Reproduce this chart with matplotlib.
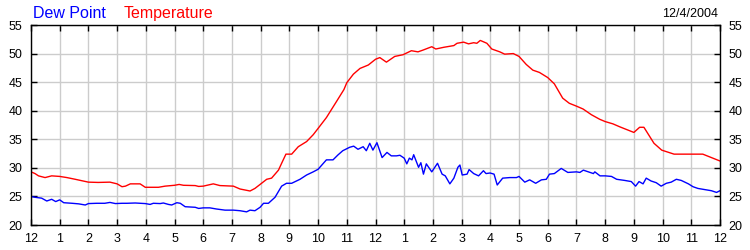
import matplotlib
matplotlib.use("Agg")
import matplotlib.pyplot as plt

plt.rcParams['font.family'] = ['Liberation Sans', 'DejaVu Sans']

# hours since midnight and temperature (F)
temp_hours = [0, 0.14, 0.26, 0.49, 0.72, 1.0, 1.25, 1.54, 1.77, 2.0, 2.34, 2.75, 3.0, 3.17, 3.29,
              3.46, 3.8, 3.98, 4.44, 4.67, 5.0, 5.16, 5.31, 5.72, 5.84, 6.0, 6.35, 6.58, 7.05, 7.28,
              7.63, 7.8, 7.98, 8.21, 8.38, 8.62, 8.73, 8.88, 9.08, 9.31, 9.6, 9.83, 10.0, 10.29,
              10.64, 10.9, 11.0, 11.23, 11.46, 11.75, 12.0, 12.15, 12.38, 12.67, 12.96, 13.25, 13.48,
              13.65, 13.96, 14.1, 14.38, 14.73, 14.84, 15.07, 15.24, 15.42, 15.53, 15.65, 15.88,
              16.05, 16.33, 16.5, 16.8, 17.0, 17.25, 17.48, 17.71, 18.0, 18.23, 18.52, 18.75, 19.0,
              19.23, 19.52, 19.81, 20.0, 20.27, 20.5, 21.0, 21.2, 21.35, 21.7, 21.97, 22.4, 23.4,
              23.7, 24.0]
temperature = [29.3, 29.0, 28.6, 28.3, 28.6, 28.5, 28.3, 28.0, 27.75, 27.5, 27.45, 27.5, 27.2, 26.7,
               26.8, 27.2, 27.2, 26.6, 26.6, 26.8, 26.95, 27.1, 26.95, 26.9, 26.75, 26.8, 27.2, 26.9,
               26.8, 26.3, 25.95, 26.4, 27.1, 28.0, 28.2, 29.6, 30.8, 32.4, 32.4, 33.7, 34.6, 35.8,
               36.9, 38.8, 41.6, 43.7, 44.9, 46.4, 47.4, 48.0, 49.0, 49.3, 48.5, 49.5, 49.8, 50.5,
               50.3, 50.6, 51.2, 50.8, 51.1, 51.4, 51.8, 52.0, 51.7, 51.9, 51.8, 52.3, 51.8, 50.8,
               50.3, 49.9, 50.0, 49.5, 48.1, 47.1, 46.7, 45.8, 44.7, 42.2, 41.3, 40.8, 40.3, 39.3,
               38.5, 38.1, 37.7, 37.2, 36.2, 37.1, 37.1, 34.3, 33.1, 32.4, 32.4, 31.8, 31.2]

dew_hours = [0, 0.14, 0.37, 0.55, 0.72, 0.86, 1.0, 1.14, 1.43, 1.66, 1.89, 2.0, 2.29, 2.57, 2.75,
             2.94, 3.17, 3.34, 3.63, 3.98, 4.15, 4.26, 4.5, 4.61, 4.79, 4.9, 5.08, 5.2, 5.37, 5.72,
             5.84, 6.0, 6.23, 6.46, 6.76, 7.05, 7.28, 7.51, 7.63, 7.8, 7.98, 8.1, 8.27, 8.5, 8.73,
             8.9, 9.08, 9.37, 9.6, 9.83, 10.0, 10.29, 10.52, 10.69, 10.86, 11.1, 11.24, 11.39, 11.57,
             11.68, 11.8, 11.91, 12.05, 12.23, 12.4, 12.55, 12.73, 12.85, 13.0, 13.09, 13.18, 13.27,
             13.33, 13.5, 13.58, 13.67, 13.77, 13.96, 14.16, 14.32, 14.43, 14.59, 14.73, 14.87,
             14.94, 15.02, 15.19, 15.26, 15.42, 15.59, 15.76, 15.85, 15.99, 16.13, 16.24, 16.43,
             16.68, 16.91, 17.0, 17.2, 17.37, 17.58, 17.78, 17.95, 18.06, 18.23, 18.47, 18.7, 19.0,
             19.12, 19.24, 19.41, 19.59, 19.64, 19.82, 20.0, 20.22, 20.4, 20.68, 20.91, 21.06,
             21.18, 21.32, 21.43, 21.6, 21.78, 21.95, 22.13, 22.3, 22.48, 22.65, 22.9, 23.06,
             23.23, 23.46, 23.7, 23.88, 24.0]
dew_point = [25.0, 24.85, 24.7, 24.2, 24.5, 24.1, 24.4, 23.9, 23.8, 23.7, 23.5, 23.75, 23.8, 23.8,
             23.95, 23.75, 23.8, 23.8, 23.85, 23.75, 23.6, 23.8, 23.75, 23.85, 23.6, 23.5, 23.9,
             23.8, 23.2, 23.1, 22.9, 23.0, 23.0, 22.8, 22.6, 22.6, 22.5, 22.3, 22.6, 22.5, 23.1,
             23.8, 23.8, 24.85, 26.8, 27.3, 27.3, 28.0, 28.75, 29.3, 29.75, 31.4, 31.4, 32.25, 33.0,
             33.6, 33.8, 33.25, 33.7, 33.0, 34.3, 33.1, 34.4, 31.8, 32.7, 32.1, 32.1, 32.2, 31.7,
             30.7, 31.7, 31.4, 32.3, 30.1, 30.9, 28.9, 30.7, 29.3, 30.8, 28.9, 28.6, 27.2, 28.2,
             30.1, 30.5, 28.75, 28.9, 29.7, 29.0, 28.6, 29.5, 29.0, 29.1, 28.9, 27.0, 28.2, 28.3,
             28.3, 28.5, 27.5, 27.9, 27.3, 27.9, 28.0, 28.9, 29.0, 29.9, 29.2, 29.3, 29.2, 29.6,
             29.3, 29.0, 29.3, 28.6, 28.6, 28.5, 28.0, 27.8, 27.6, 26.8, 27.6, 27.2, 28.2, 27.7,
             27.4, 26.8, 27.3, 27.5, 28.0, 27.8, 27.2, 26.7, 26.4, 26.2, 26.0, 25.7, 26.0]

hour_ticks = list(range(25))
hour_labels = ['12', '1', '2', '3', '4', '5', '6', '7', '8', '9', '10', '11',
               '12', '1', '2', '3', '4', '5', '6', '7', '8', '9', '10', '11', '12']
y_ticks = [20, 25, 30, 35, 40, 45, 50, 55]

fig = plt.figure(figsize=(7.5, 2.5), dpi=100)
ax = fig.add_axes([31 / 750, 25 / 250, 689 / 750, 200 / 250])

ax.plot(temp_hours, temperature, color='#ff0000', linewidth=1)
ax.plot(dew_hours, dew_point, color='#0000ff', linewidth=1)

ax.set_xlim(0, 24)
ax.set_ylim(20, 55)
ax.set_xticks(hour_ticks)
ax.set_xticklabels(hour_labels)
ax.set_yticks(y_ticks)
ax.grid(True, color='#cccccc', linewidth=1)
ax.set_axisbelow(True)
ax.tick_params(direction='in', length=4, width=1, top=True, right=True,
               labelright=True, labelsize=9, pad=6)
for sp in ax.spines.values():
    sp.set_linewidth(1)
    sp.set_color('black')

fig.text(33 / 750, 1 - 18 / 250, 'Dew Point', color='#0000ff', fontsize=11.5, va='baseline')
fig.text(124 / 750, 1 - 18 / 250, 'Temperature', color='#ff0000', fontsize=11.5, va='baseline')
fig.text(718 / 750, 1 - 17 / 250, '12/4/2004', color='black', fontsize=9, va='baseline', ha='right')

fig.savefig('out.png', dpi=100)
